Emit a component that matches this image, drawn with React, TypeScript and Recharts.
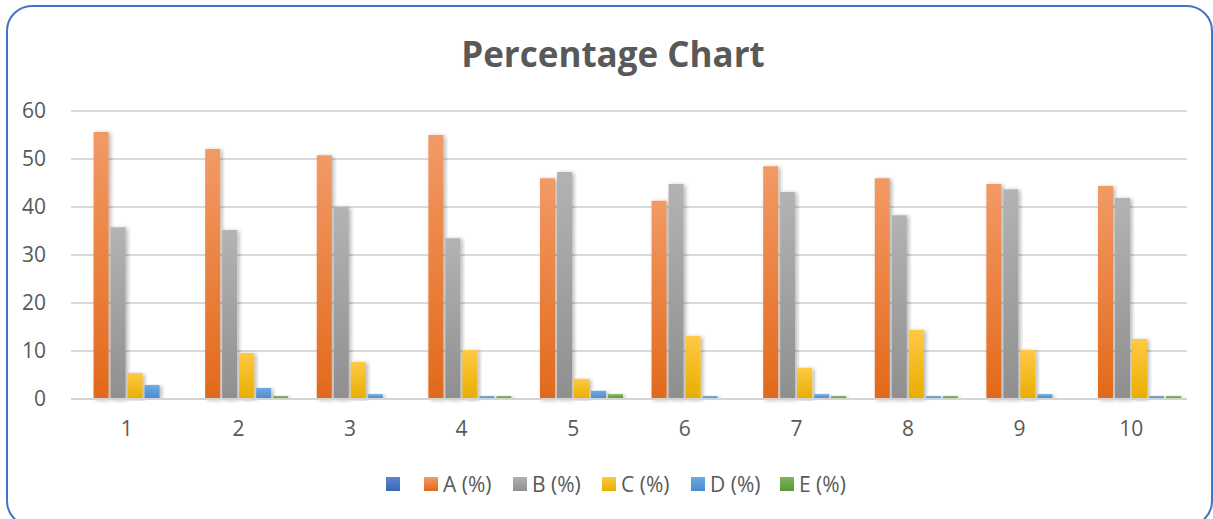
import React from 'react';
import {
  BarChart,
  Bar,
  XAxis,
  YAxis,
  CartesianGrid,
  Legend,
} from 'recharts';

// values
const categories = ['1', '2', '3', '4', '5', '6', '7', '8', '9', '10'];
const seriesA = [55.6, 52.1, 50.8, 55.0, 46.0, 41.3, 48.5, 46.0, 44.8, 44.4];
const seriesB = [35.8, 35.2, 40.0, 33.5, 47.3, 44.8, 43.1, 38.3, 43.7, 41.9];
const seriesC = [5.4, 9.6, 7.7, 10.2, 4.2, 13.1, 6.5, 14.4, 10.2, 12.5];
const seriesD = [2.9, 2.3, 1.0, 0.6, 1.7, 0.6, 1.0, 0.6, 1.0, 0.6];
const seriesE = [0, 0.6, 0, 0.6, 1.0, 0, 0.6, 0.6, 0, 0.6];
const yTicks = [0, 10, 20, 30, 40, 50, 60];

const seriesDefs = [
  { key: 'blank', name: ' ', top: '#5B86D0', bottom: '#3A66B8' },
  { key: 'A', name: 'A (%)', top: '#F29A66', bottom: '#E2691A' },
  { key: 'B', name: 'B (%)', top: '#B3B3B3', bottom: '#8F8F8F' },
  { key: 'C', name: 'C (%)', top: '#FFC944', bottom: '#E8AE00' },
  { key: 'D', name: 'D (%)', top: '#6FA9E0', bottom: '#4A8AD0' },
  { key: 'E', name: 'E (%)', top: '#7EB556', bottom: '#5D9838' },
];

const chartData = categories.map((cat, i) => ({
  cat,
  blank: null,
  A: seriesA[i],
  B: seriesB[i],
  C: seriesC[i],
  D: seriesD[i],
  E: seriesE[i],
}));

const FONT = '"Open Sans", "DejaVu Sans", sans-serif';
const TEXT = '#595959';

const renderLegend = () => (
  <div style={{ display: 'flex', alignItems: 'center', fontFamily: FONT, fontSize: 21, color: TEXT, lineHeight: '22px' }}>
    {seriesDefs.map((s, i) => (
      <div
        key={s.key}
        style={{ display: 'flex', alignItems: 'center', width: i === 0 ? 38 : 89, flexShrink: 0 }}
      >
        <span
          style={{
            display: 'inline-block',
            width: 14,
            height: 14,
            background: `linear-gradient(${s.top}, ${s.bottom})`,
            marginRight: 5,
          }}
        />
        <span style={{ whiteSpace: 'nowrap' }}>{s.name}</span>
      </div>
    ))}
  </div>
);

export default function App() {
  return (
    <div style={{ position: 'relative', width: 1213, height: 519, overflow: 'hidden', background: '#fff' }}>
      <style>{`body{margin:0}`}</style>
      <div
        style={{
          position: 'absolute',
          left: 6,
          top: 5,
          width: 1207,
          height: 522,
          boxSizing: 'border-box',
          border: '2px solid #4472C4',
          borderRadius: 26,
        }}
      />
      <div
        style={{
          position: 'absolute',
          left: 0,
          width: 1226,
          top: 36,
          textAlign: 'center',
          fontFamily: FONT,
          fontWeight: 700,
          fontSize: 35,
          lineHeight: '35px',
          color: TEXT,
        }}
      >
        Percentage Chart
      </div>
      <div style={{ position: 'absolute', left: 0, top: 0 }}>
        <BarChart
          width={1213}
          height={519}
          data={chartData}
          margin={{ top: 111, right: 26, bottom: 68, left: 0 }}
          barCategoryGap="5%"
          barGap={2}
        >
          <defs>
            {seriesDefs.map((s) => (
              <linearGradient key={s.key} id={`grad-${s.key}`} x1="0" y1="0" x2="0" y2="1">
                <stop offset="0%" stopColor={s.top} />
                <stop offset="100%" stopColor={s.bottom} />
              </linearGradient>
            ))}
            <filter id="barShadow" x="-30%" y="-5%" width="160%" height="110%">
              <feDropShadow dx="2" dy="1" stdDeviation="2" floodColor="#000" floodOpacity="0.3" />
            </filter>
          </defs>
          <CartesianGrid vertical={false} stroke="#DADADA" strokeWidth={2} />
          <XAxis
            dataKey="cat"
            height={30}
            tickLine={false}
            axisLine={{ stroke: '#D4D4D4', strokeWidth: 2 }}
            tickSize={0}
            tickMargin={22}
            tick={{ fill: TEXT, fontSize: 21, fontFamily: FONT }}
          />
          <YAxis
            width={71}
            domain={[0, 60]}
            ticks={yTicks}
            axisLine={false}
            tickLine={false}
            tickSize={0}
            tickMargin={25}
            tick={{ fill: TEXT, fontSize: 21, fontFamily: FONT }}
          />
          <Legend
            content={renderLegend}
            wrapperStyle={{ position: 'absolute', left: 386, top: 473, width: 520, height: 22 }}
          />
          {seriesDefs.map((s) => (
            <Bar
              key={s.key}
              dataKey={s.key}
              name={s.name}
              fill={`url(#grad-${s.key})`}
              style={{ filter: 'url(#barShadow)' }}
              isAnimationActive={false}
            />
          ))}
        </BarChart>
      </div>
    </div>
  );
}
